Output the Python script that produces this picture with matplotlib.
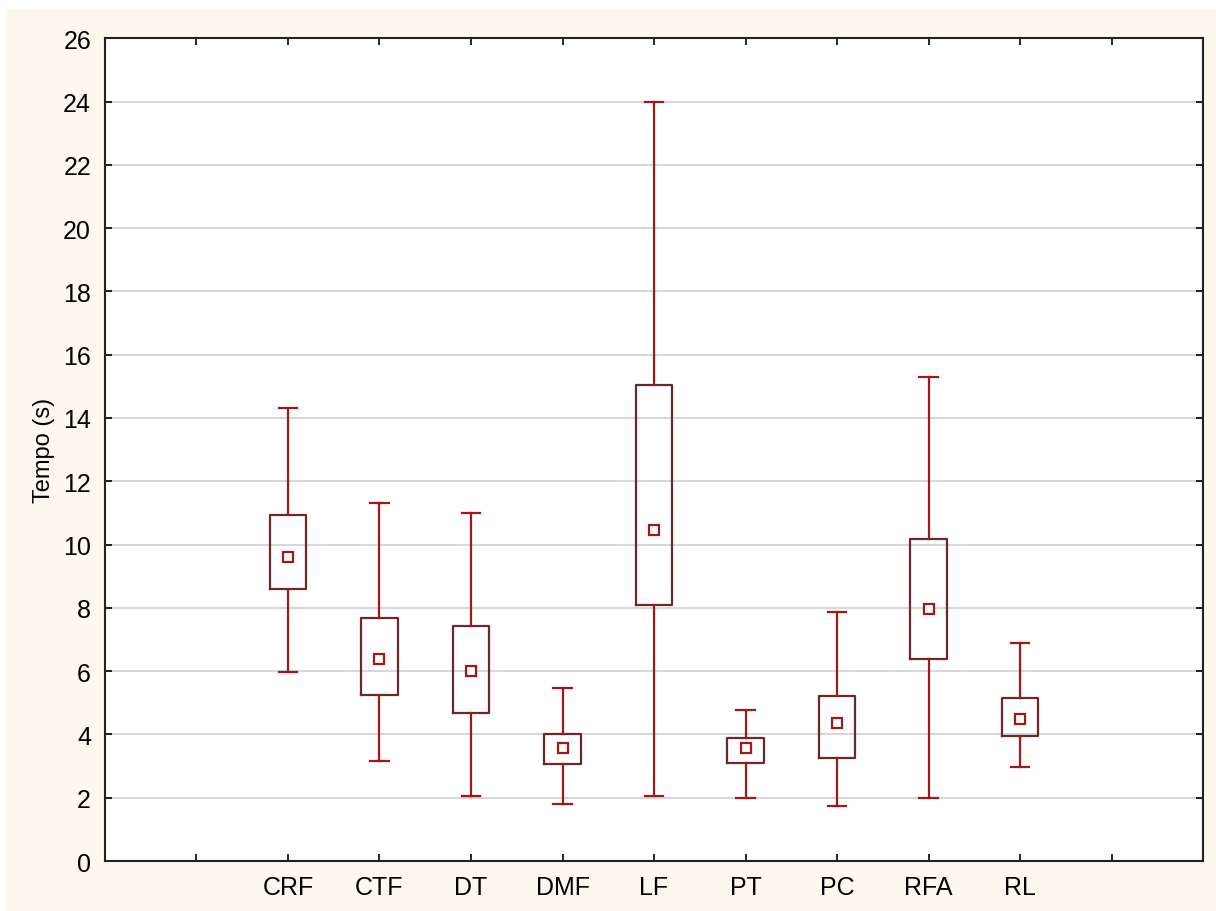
import matplotlib.pyplot as plt
import matplotlib
from matplotlib.patches import Rectangle

matplotlib.rcParams['font.family'] = ['Liberation Sans', 'DejaVu Sans']

categories = ['CRF', 'CTF', 'DT', 'DMF', 'LF', 'PT', 'PC', 'RFA', 'RL']
means      = [9.60, 6.38, 6.00, 3.57, 10.46, 3.57, 4.36, 7.96, 4.49]
box_low    = [8.59, 5.24, 4.68, 3.06, 8.09, 3.10, 3.25, 6.38, 3.95]
box_high   = [10.93, 7.68, 7.42, 4.01, 15.04, 3.89, 5.21, 10.17, 5.15]
whis_low   = [5.97, 3.16, 2.05, 1.80, 2.05, 2.00, 1.74, 1.98, 2.97]
whis_high  = [14.31, 11.31, 11.00, 5.47, 24.00, 4.77, 7.87, 15.29, 6.88]

positions = list(range(2, 2 + len(categories)))

stats = []
for i, name in enumerate(categories):
    stats.append({'label': name, 'mean': means[i], 'med': means[i],
                  'q1': box_low[i], 'q3': box_high[i],
                  'whislo': whis_low[i], 'whishi': whis_high[i], 'fliers': []})

box_col = '#6a2828'
whis_col = '#9e1a1a'

fig = plt.figure(figsize=(12.16, 9.12), dpi=100, facecolor='white')
# cream panel behind the plot, thin white strip at top/left like the source
fig.patches.append(Rectangle((6 / 1216, 0), 1, 1 - 10 / 912, transform=fig.transFigure,
                             facecolor='#fdf8ee', edgecolor='none', zorder=-10))

ax = fig.add_axes([0.0863, 0.0548, 0.9031, 0.9022])

ax.yaxis.grid(True, color='#d8d8d8', linewidth=1.5, zorder=0)
ax.set_axisbelow(True)

ax.bxp(stats, positions=positions, widths=0.4, showmeans=True,
       boxprops=dict(color=box_col, linewidth=1.6),
       whiskerprops=dict(color=whis_col, linewidth=1.6),
       capprops=dict(color=whis_col, linewidth=1.6),
       medianprops=dict(visible=False),
       meanprops=dict(marker='s', markersize=7, markerfacecolor='white',
                      markeredgecolor=whis_col, markeredgewidth=1.6),
       capwidths=0.2)

ax.set_xlim(0, 12)
ax.set_ylim(0, 26)
ax.set_yticks(range(0, 27, 2))
ax.set_xticks(range(1, 12))
ax.set_xticklabels([''] + categories + [''])
ax.tick_params(direction='in', top=True, right=True, length=5, width=1.2,
               labelsize=18, pad=10)
for spine in ax.spines.values():
    spine.set_linewidth(1.5)
    spine.set_color('#222222')

ax.set_ylabel('Tempo (s)', fontsize=17, labelpad=6)

plt.savefig('out.png', dpi=100, facecolor=fig.get_facecolor())
